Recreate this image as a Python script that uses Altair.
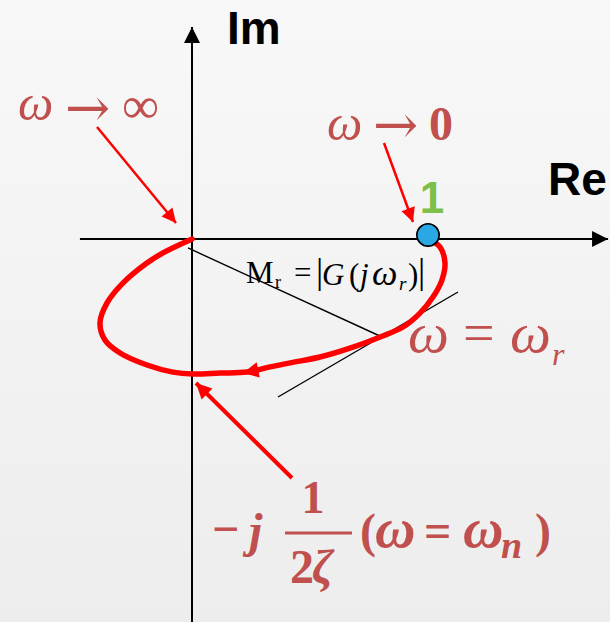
import altair as alt
import numpy as np
import pandas as pd

# ---------------------------------------------------------------------------
# Nyquist locus of a 2nd-order system G(jω), complex-plane units (1 = 1 + j0)
# ordered from ω = 0 (at 1 + j0) to ω → ∞ (origin)
# ---------------------------------------------------------------------------
locus_re = [1.000, 1.051, 1.072, 1.059, 1.021, 0.966, 0.894, 0.797, 0.682,
            0.542, 0.415, 0.331, 0.233, 0.119, 0.004, -0.081, -0.191, -0.305,
            -0.369, -0.390, -0.360, -0.292, -0.191, -0.123, 0.000]
locus_im = [0.000, -0.034, -0.102, -0.174, -0.246, -0.314, -0.373, -0.415,
            -0.458, -0.500, -0.525, -0.542, -0.564, -0.568, -0.572, -0.564,
            -0.534, -0.483, -0.428, -0.356, -0.271, -0.186, -0.102, -0.059,
            0.000]

# point G(j0) = 1
unit_point = (1.0, 0.017)

# axes: (start_re, start_im, tip_re, tip_im)
re_axis = (-0.475, 0.0, 1.763, 0.0)
im_axis = (0.0, -1.70, 0.0, 0.898)

# pointer arrows: (tail_re, tail_im, tip_re, tip_im)
pointer_inf = (-0.4025, 0.4746, -0.0678, 0.0678)
pointer_zero = (0.8136, 0.4068, 0.9364, 0.0720)
pointer_wn = (0.4237, -1.0127, 0.0169, -0.6102)
# direction-of-increasing-ω marker on the locus
locus_marker = (0.3008, -0.5508, 0.2161, -0.5678)

# resonance construction: tangent at ω_r and the |G(jω_r)| radius
tangent_line = (0.3644, -0.6695, 1.1271, -0.2246)
mr_line = (-0.0169, -0.0381, 0.8051, -0.4153)

# fraction bar of 1/(2ζ)
frac_bar = (0.3941, -1.2458, 0.6780, -1.2458)

# text pieces: (style, re, im, text)
texts = [
    ("axis", 0.1483, 0.8263, "Im"),
    ("axis", 1.5085, 0.1864, "Re"),
    ("unit", 1.0169, 0.1102, "1"),
    # ω → ∞
    ("lim_it", -0.7373, 0.5042, "ω"),
    ("lim_arrow", -0.5381, 0.4788, "→"),
    ("lim_inf", -0.2966, 0.4915, "∞"),
    # ω → 0
    ("lim_it", 0.5720, 0.4195, "ω"),
    ("lim_arrow", 0.7669, 0.4068, "→"),
    ("lim_bd", 1.0042, 0.4195, "0"),
    # ω = ω_r
    ("res_it", 0.9153, -0.4788, "ω"),
    ("res_rm", 1.1483, -0.4788, "="),
    ("res_it", 1.3475, -0.4788, "ω"),
    ("res_sub", 1.5254, -0.5339, "r"),
    # M_r = |G(jω_r)|
    ("mr_rm", 0.2288, -0.1864, "M"),
    ("mr_sub", 0.3517, -0.2076, "r"),
    ("mr_rm", 0.4322, -0.1864, "="),
    ("mr_bar", 0.5254, -0.1864, "|"),
    ("mr_it", 0.5508, -0.1949, "G"),
    ("mr_rm", 0.6653, -0.1949, "("),
    ("mr_it", 0.7119, -0.1949, "j"),
    ("mr_om", 0.7627, -0.1949, "ω"),
    ("mr_sub_it", 0.8771, -0.2161, "r"),
    ("mr_rm", 0.9153, -0.1949, ")"),
    ("mr_bar", 0.9576, -0.1864, "|"),
    # -j 1/(2ζ) (ω = ω_n)
    ("wn_bd", 0.0847, -1.2966, "−"),
    ("wn_bi", 0.2415, -1.3051, "j"),
    ("wn_num", 0.5127, -1.1610, "1"),
    ("wn_bd", 0.4153, -1.4576, "2"),
    ("wn_bi", 0.5085, -1.4576, "ζ"),
    ("wn_bd", 0.7119, -1.3051, "("),
    ("wn_om", 0.7754, -1.3051, "ω"),
    ("wn_bd", 0.9831, -1.3051, "="),
    ("wn_om", 1.1483, -1.3051, "ω"),
    ("wn_sub", 1.3093, -1.3517, "n"),
    ("wn_bd", 1.4534, -1.3051, ")"),
]

# ---------------------------------------------------------------------------
# styling
# ---------------------------------------------------------------------------
W, H = 610, 622
X_DOMAIN = [-0.8136, 1.7712]
Y_DOMAIN = [-1.6229, 1.0127]
RED = "#ff0000"
LABEL = "#c0504d"
SERIF = "Liberation Serif"
SANS = "Liberation Sans"

TEXT_STYLES = {
    "axis": dict(font=SANS, fontSize=46, fontWeight="bold", color="#000000", align="left"),
    "unit": dict(font=SANS, fontSize=44, fontWeight="bold", color="#7dbf4b", align="center"),
    "lim_it": dict(font=SERIF, fontSize=50, fontStyle="italic", color=LABEL, align="left"),
    "lim_arrow": dict(font="DejaVu Serif", fontSize=54, color=LABEL, align="left"),
    "lim_inf": dict(font=SERIF, fontSize=52, color=LABEL, align="left"),
    "lim_bd": dict(font=SERIF, fontSize=48, fontWeight="bold", color=LABEL, align="left"),
    "res_it": dict(font=SERIF, fontSize=58, fontStyle="italic", color=LABEL, align="left"),
    "res_rm": dict(font=SERIF, fontSize=56, color=LABEL, align="left"),
    "res_sub": dict(font=SERIF, fontSize=32, fontStyle="italic", color=LABEL, align="left"),
    "mr_rm": dict(font=SERIF, fontSize=31, color="#000000", align="left"),
    "mr_it": dict(font=SERIF, fontSize=31, fontStyle="italic", color="#000000", align="left"),
    "mr_om": dict(font=SERIF, fontSize=36, fontStyle="italic", color="#000000", align="left"),
    "mr_bar": dict(font=SERIF, fontSize=36, color="#000000", align="left"),
    "mr_sub": dict(font=SERIF, fontSize=18, color="#000000", align="left"),
    "mr_sub_it": dict(font=SERIF, fontSize=19, fontStyle="italic", color="#000000", align="left"),
    "wn_bd": dict(font=SERIF, fontSize=48, fontWeight="bold", color=LABEL, align="left"),
    "wn_bi": dict(font=SERIF, fontSize=48, fontWeight="bold", fontStyle="italic", color=LABEL, align="left"),
    "wn_om": dict(font=SERIF, fontSize=56, fontWeight="bold", fontStyle="italic", color=LABEL, align="left"),
    "wn_num": dict(font=SERIF, fontSize=46, fontWeight="bold", color=LABEL, align="center"),
    "wn_sub": dict(font=SERIF, fontSize=38, fontWeight="bold", fontStyle="italic", color=LABEL, align="left"),
}

# arrowhead with its tip at the symbol origin, pointing up before rotation
HEAD = "M0,0L-1,2L1,2Z"

xs = alt.Scale(domain=X_DOMAIN, nice=False, zero=False)
ys = alt.Scale(domain=Y_DOMAIN, nice=False, zero=False)


def X(f="x"):
    return alt.X(f"{f}:Q", scale=xs, axis=None)


def Y(f="y"):
    return alt.Y(f"{f}:Q", scale=ys, axis=None)


def segments(*segs):
    return pd.DataFrame([dict(x=a, y=b, x2=c, y2=d) for a, b, c, d in segs])


def heads(*segs):
    rows = []
    for a, b, c, d in segs:
        ang = float(np.degrees(np.arctan2(c - a, d - b)) % 360)
        rows.append(dict(x=c, y=d, ang=ang))
    return pd.DataFrame(rows)


def rule_layer(df, color, width):
    return alt.Chart(df).mark_rule(color=color, strokeWidth=width, strokeCap="butt").encode(
        x=X(), y=Y(), x2="x2:Q", y2="y2:Q")


def head_layer(df, color, size):
    return alt.Chart(df).mark_point(shape=HEAD, filled=True, color=color, opacity=1,
                                    size=size, strokeWidth=0).encode(
        x=X(), y=Y(), angle=alt.Angle("ang:Q", scale=None))


background = alt.Chart(pd.DataFrame({"a": [0]})).mark_rect(
    color=alt.Gradient(gradient="linear",
                       stops=[alt.GradientStop(color="#f8f8f8", offset=0),
                              alt.GradientStop(color="#ededed", offset=1)],
                       x1=0, x2=0, y1=0, y2=1)
).encode(x=alt.value(0), x2=alt.value(W), y=alt.value(0), y2=alt.value(H))

axes = rule_layer(segments(re_axis, im_axis), "#000000", 2)
axis_heads = head_layer(heads(re_axis, im_axis), "#000000", 256)

guides = rule_layer(segments(tangent_line, mr_line), "#000000", 1.4)

locus_df = pd.DataFrame({"x": locus_re, "y": locus_im, "k": range(len(locus_re))})
locus = alt.Chart(locus_df).mark_line(
    color=RED, strokeWidth=5.5, interpolate="catmull-rom", strokeCap="round", strokeJoin="round"
).encode(x=X(), y=Y(), order="k:Q")
locus_head = head_layer(heads(locus_marker), RED, 240)

pointers = rule_layer(segments(pointer_inf, pointer_zero), RED, 2.5)
pointer_thick = rule_layer(segments(pointer_wn), RED, 4)
pointer_heads = head_layer(heads(pointer_inf, pointer_zero), RED, 200)
pointer_thick_head = head_layer(heads(pointer_wn), RED, 240)

frac = rule_layer(segments(frac_bar), LABEL, 3)

dot = alt.Chart(pd.DataFrame({"x": [unit_point[0]], "y": [unit_point[1]]})).mark_point(
    shape="circle", filled=True, fill="#2aa8e4", stroke="#000000", strokeWidth=1.6,
    size=500, opacity=1
).encode(x=X(), y=Y())

text_df = pd.DataFrame(texts, columns=["style", "x", "y", "t"])
text_layers = []
for key, props in TEXT_STYLES.items():
    sub = text_df[text_df["style"] == key]
    if sub.empty:
        continue
    text_layers.append(
        alt.Chart(sub).mark_text(baseline="alphabetic", **props).encode(x=X(), y=Y(), text="t:N")
    )

chart = alt.layer(
    background, axes, axis_heads, guides, locus, locus_head,
    pointers, pointer_thick, pointer_heads, pointer_thick_head, frac, dot,
    *text_layers
).properties(
    width=W, height=H, autosize=alt.AutoSizeParams(type="none"), padding=0,
    background="#f3f3f3"
).configure_view(stroke=None)

chart.save("out.html", embed_options={"renderer": "svg", "actions": False})
